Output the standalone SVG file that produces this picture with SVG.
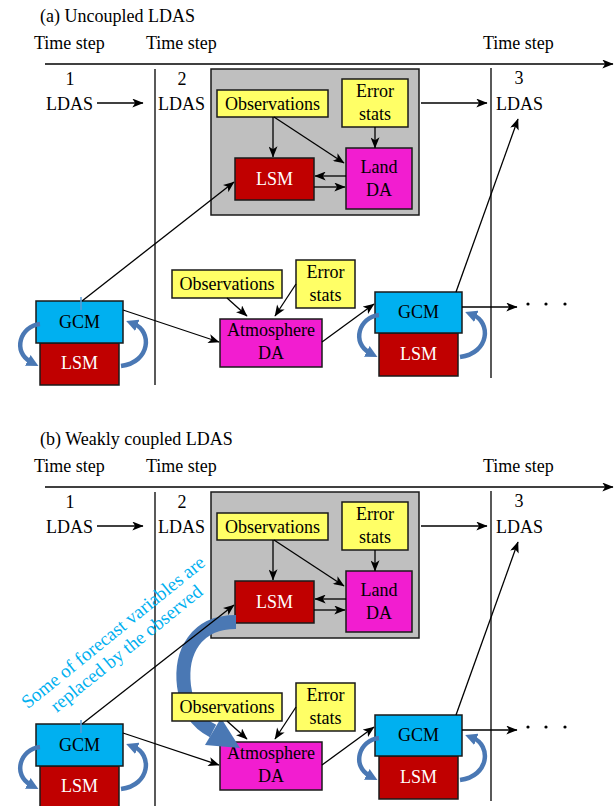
<svg xmlns="http://www.w3.org/2000/svg" width="615" height="806" viewBox="0 0 615 806">
<style>
text{font-family:"Liberation Serif","Times New Roman",serif;font-size:18px;fill:#000}
.c{text-anchor:middle}
.w{fill:#fff}
.ln{stroke:#000;stroke-width:1.3;fill:none}
.ar{stroke:#000;stroke-width:1.3;fill:none;marker-end:url(#ah)}
.box{stroke:#1a1a1a;stroke-width:1.5}
.gray{fill:#bfbfbf}
.yel{fill:#ffff66}
.red{fill:#c00000}
.mag{fill:#f21dd0}
.cya{fill:#00b0f0}
.bc{stroke:#4a78b4;stroke-width:4.5;fill:none;marker-end:url(#bh)}
.tick{stroke:#5b9bd5;stroke-width:1.5}
.note{fill:#00b0f0;font-size:19px}
</style>
<defs>
<marker id="ah" viewBox="0 0 10 8" markerUnits="userSpaceOnUse" markerWidth="12" markerHeight="9" refX="9.5" refY="4" orient="auto">
<path d="M0,0 L10,4 L0,8 L2.5,4 z" fill="#000"/>
</marker>
<marker id="bh" viewBox="0 0 10 10" markerUnits="userSpaceOnUse" markerWidth="12" markerHeight="12" refX="3" refY="5" orient="auto">
<path d="M0,0 L10,5 L0,10 z" fill="#4a78b4"/>
</marker>
</defs>

<!-- ================= Panel (a) ================= -->
<g id="panel-a">
<g id="labels-a">
<text x="40" y="22">(a) Uncoupled LDAS</text>
<text x="34" y="49">Time step</text>
<text x="146" y="49">Time step</text>
<text x="483" y="49">Time step</text>
<text x="70" y="85" class="c">1</text>
<text x="46" y="110">LDAS</text>
<text x="182" y="85" class="c">2</text>
<text x="158" y="110">LDAS</text>
<text x="519" y="84" class="c">3</text>
<text x="496" y="110">LDAS</text>
</g>
<g id="timeline-a">
<line x1="155" y1="69" x2="155" y2="385" class="ln"/>
<line x1="491" y1="68" x2="491" y2="378" class="ln"/>
</g>
<g id="landbox-a"><rect x="211" y="69" width="208" height="146" class="box gray"/></g>
<g id="obs1-a"><rect x="217" y="90" width="111" height="27" class="box yel"/><text x="272.5" y="110" class="c">Observations</text></g>
<g id="err1-a"><rect x="342" y="79" width="66" height="48" class="box yel"/><text x="375" y="97" class="c">Error</text><text x="375" y="120" class="c">stats</text></g>
<g id="lsm-land-a"><rect x="235" y="158" width="79" height="42" class="box red"/><text x="274.5" y="185" class="c w">LSM</text></g>
<g id="landda-a"><rect x="346" y="148" width="66" height="61" class="box mag"/><text x="379" y="173" class="c">Land</text><text x="379" y="196" class="c">DA</text></g>
<g id="lsm1-a"><rect x="40" y="343" width="79" height="42" class="box red"/><text x="79.5" y="369" class="c w">LSM</text></g>
<g id="gcm1-a"><rect x="36" y="301" width="87" height="42" class="box cya"/><text x="79.5" y="328" class="c">GCM</text></g>
<g id="atmda-a"><rect x="220" y="319" width="102" height="48" class="box mag"/><text x="271" y="336" class="c">Atmosphere</text><text x="271" y="359" class="c">DA</text></g>
<g id="obs2-a"><rect x="172" y="270" width="110" height="28" class="box yel"/><text x="227" y="290" class="c">Observations</text></g>
<g id="err2-a"><rect x="296" y="260" width="59" height="48" class="box yel"/><text x="325.5" y="278" class="c">Error</text><text x="325.5" y="301" class="c">stats</text></g>
<g id="lsm3-a"><rect x="379" y="333" width="79" height="43" class="box red"/><text x="418.5" y="360" class="c w">LSM</text></g>
<g id="gcm3-a"><rect x="375" y="292" width="87" height="41" class="box cya"/><text x="418.5" y="318" class="c">GCM</text></g>
<g id="connectors-a">
<path d="M45 64 H613" class="ar"/>
<path d="M97 103 H143" class="ar"/>
<path d="M421 103 H487" class="ar"/>
<path d="M273 117 V157" class="ar"/>
<path d="M274 117 L344 163" class="ar"/>
<path d="M375 127 V148" class="ar"/>
<path d="M346 176 H315" class="ar"/>
<path d="M314 187 H345" class="ar"/>
<path d="M82 301 L234 182" class="ar"/>
<path d="M123 310 L219 342" class="ar"/>
<path d="M227 298 L247 316" class="ar"/>
<path d="M296 284 L275 316" class="ar"/>
<path d="M322 342 L374 304" class="ar"/>
<path d="M456 292 L518 119" class="ar"/>
<path d="M462 307 H517" class="ar"/>
<circle cx="528" cy="304" r="1.6"/>
<circle cx="546" cy="304" r="1.6"/>
<circle cx="565" cy="304" r="1.6"/>
<line x1="81" y1="297" x2="81" y2="310" class="tick"/>
<path d="M40 324 C20 326 12 352 31 362" class="bc"/>
<path d="M121 366 C151 362 152 331 134 324" class="bc"/>
<path d="M379 315 C359 317 351 343 370 353" class="bc"/>
<path d="M460 357 C490 353 491 322 473 315" class="bc"/>
</g>
</g>

<!-- ================= Panel (b) ================= -->
<g id="panel-b">
<g id="labels-b">
<text x="40" y="445">(b) Weakly coupled LDAS</text>
<text x="34" y="472">Time step</text>
<text x="146" y="472">Time step</text>
<text x="483" y="472">Time step</text>
<text x="70" y="508" class="c">1</text>
<text x="46" y="533">LDAS</text>
<text x="182" y="508" class="c">2</text>
<text x="158" y="533">LDAS</text>
<text x="519" y="507" class="c">3</text>
<text x="496" y="533">LDAS</text>
</g>
<g id="timeline-b">
<line x1="155" y1="492" x2="155" y2="806" class="ln"/>
<line x1="491" y1="491" x2="491" y2="801" class="ln"/>
</g>
<g id="landbox-b"><rect x="211" y="492" width="208" height="146" class="box gray"/></g>
<g id="obs1-b"><rect x="217" y="513" width="111" height="27" class="box yel"/><text x="272.5" y="533" class="c">Observations</text></g>
<g id="err1-b"><rect x="342" y="502" width="66" height="48" class="box yel"/><text x="375" y="520" class="c">Error</text><text x="375" y="543" class="c">stats</text></g>
<g id="lsm-land-b"><rect x="235" y="581" width="79" height="42" class="box red"/><text x="274.5" y="608" class="c w">LSM</text></g>
<g id="landda-b"><rect x="346" y="571" width="66" height="61" class="box mag"/><text x="379" y="596" class="c">Land</text><text x="379" y="619" class="c">DA</text></g>
<g id="lsm1-b"><rect x="40" y="766" width="79" height="42" class="box red"/><text x="79.5" y="792" class="c w">LSM</text></g>
<g id="gcm1-b"><rect x="36" y="724" width="87" height="42" class="box cya"/><text x="79.5" y="751" class="c">GCM</text></g>
<g id="atmda-b"><rect x="220" y="742" width="102" height="48" class="box mag"/><text x="271" y="759" class="c">Atmosphere</text><text x="271" y="782" class="c">DA</text></g>
<g id="replace-arrow-b">
<path d="M236 622 C196 622 180 652 184 686 C187 710 199 724 213 731" stroke="#4a78b4" stroke-width="14" fill="none"/>
<polygon points="205,745 221,718 240,748" fill="#4a78b4"/>
</g>
<g id="obs2-b"><rect x="172" y="693" width="110" height="28" class="box yel"/><text x="227" y="713" class="c">Observations</text></g>
<g id="err2-b"><rect x="296" y="683" width="59" height="48" class="box yel"/><text x="325.5" y="701" class="c">Error</text><text x="325.5" y="724" class="c">stats</text></g>
<g id="lsm3-b"><rect x="379" y="756" width="79" height="43" class="box red"/><text x="418.5" y="783" class="c w">LSM</text></g>
<g id="gcm3-b"><rect x="375" y="715" width="87" height="41" class="box cya"/><text x="418.5" y="741" class="c">GCM</text></g>
<g id="connectors-b">
<path d="M45 487 H613" class="ar"/>
<path d="M97 526 H143" class="ar"/>
<path d="M421 526 H487" class="ar"/>
<path d="M273 540 V580" class="ar"/>
<path d="M274 540 L344 586" class="ar"/>
<path d="M375 550 V571" class="ar"/>
<path d="M346 599 H315" class="ar"/>
<path d="M314 610 H345" class="ar"/>
<path d="M82 724 L234 605" class="ar"/>
<path d="M123 733 L219 765" class="ar"/>
<path d="M227 721 L247 739" class="ar"/>
<path d="M296 707 L275 739" class="ar"/>
<path d="M322 765 L374 727" class="ar"/>
<path d="M456 715 L518 542" class="ar"/>
<path d="M462 730 H517" class="ar"/>
<circle cx="528" cy="727" r="1.6"/>
<circle cx="546" cy="727" r="1.6"/>
<circle cx="565" cy="727" r="1.6"/>
<line x1="81" y1="720" x2="81" y2="733" class="tick"/>
<path d="M40 747 C20 749 12 775 31 785" class="bc"/>
<path d="M121 789 C151 785 152 754 134 747" class="bc"/>
<path d="M379 738 C359 740 351 766 370 776" class="bc"/>
<path d="M460 780 C490 776 491 745 473 738" class="bc"/>
</g>
<g id="note-b" transform="translate(117,637) rotate(-39)">
<text x="0" y="0" class="c note">Some of forecast variables are</text>
<text x="0" y="21" class="c note">replaced by the observed</text>
</g>
</g>
</svg>
